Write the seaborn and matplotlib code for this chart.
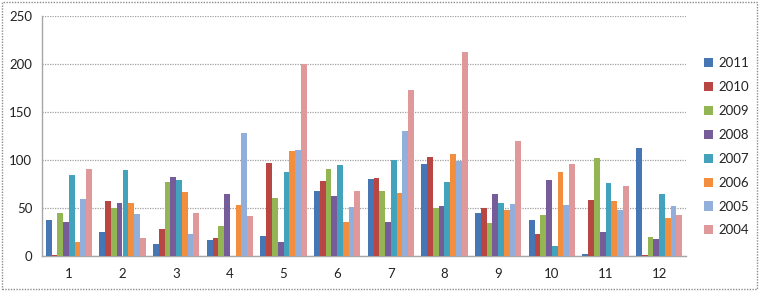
import matplotlib
matplotlib.use("Agg")
import matplotlib.pyplot as plt
import seaborn as sns
import pandas as pd
from matplotlib.patches import Rectangle, Patch
from matplotlib.ticker import FixedLocator

months = ["1", "2", "3", "4", "5", "6", "7", "8", "9", "10", "11", "12"]
years = ["2011", "2010", "2009", "2008", "2007", "2006", "2005", "2004"]
v2011 = [37, 25.5, 13, 17, 21, 68, 80, 96, 45, 37.5, 2, 112.5]
v2010 = [1, 57, 28.5, 19, 96.5, 78, 81, 103.5, 50, 23, 58, 0.7]
v2009 = [45, 49.5, 77, 31, 60, 91, 68, 50, 34, 43, 102, 19.5]
v2008 = [35, 55, 82, 65, 14.5, 63, 35.5, 52, 65, 79, 25, 17.5]
v2007 = [84, 90, 79, 0, 87.5, 94.5, 100, 77, 55.5, 10.5, 76.5, 65]
v2006 = [14.5, 55, 66.5, 53, 109, 35.5, 66, 106, 48, 87, 57, 40]
v2005 = [59, 44, 23, 128, 110.5, 51.5, 130.5, 99, 54, 53, 48, 52]
v2004 = [90.5, 19, 45, 42, 200, 68, 173, 212.5, 119.5, 96, 73, 43]
series = [v2011, v2010, v2009, v2008, v2007, v2006, v2005, v2004]
colors = ["#4676B4", "#B84744", "#94B553", "#775C9A", "#43A3BD",
          "#F28E3E", "#92AEDA", "#E0999A"]

rows = []
for y, vals in zip(years, series):
    for m, v in zip(months, vals):
        rows.append({"month": m, "year": y, "value": v})
df = pd.DataFrame(rows)

sns.set_style("white")
plt.rcParams["font.family"] = ["Lato", "DejaVu Sans"]

fig = plt.figure(figsize=(7.59, 2.91), dpi=100)
ax = fig.add_axes([42 / 759, 1 - 256 / 291, (686 - 42) / 759, 240 / 291])

sns.barplot(data=df, x="month", y="value", hue="year", order=months,
            hue_order=years, palette=colors, saturation=1, width=0.86,
            linewidth=0, ax=ax, legend=False, zorder=3)

ax.set_ylim(0, 250)
ax.set_xlim(-0.5, 11.5)
ax.set_yticks([0, 50, 100, 150, 200, 250])
ax.yaxis.grid(True, color="#a0a0a0", linestyle=(0, (1, 1)), linewidth=0.9, zorder=0)
ax.set_axisbelow(True)
ax.set_xlabel("")
ax.set_ylabel("")
for s in ["top", "right"]:
    ax.spines[s].set_visible(False)
for s in ["left", "bottom"]:
    ax.spines[s].set_color("#a6a6a6")
    ax.spines[s].set_linewidth(1.0)
ax.tick_params(axis="y", length=4, color="#a6a6a6", labelsize=9.5, pad=3,
               labelcolor="#222222")
ax.tick_params(axis="x", which="major", length=0, labelsize=9.5, pad=9,
               labelcolor="#222222")
ax.xaxis.set_minor_locator(FixedLocator([i - 0.5 for i in range(13)]))
ax.tick_params(axis="x", which="minor", length=4, color="#a6a6a6")

handles = [Patch(facecolor=c, edgecolor="none", label=y) for c, y in zip(colors, years)]
fig.legend(handles=handles, loc="upper left", bbox_to_anchor=(0.92, 0.821),
           frameon=False, fontsize=9.5, handlelength=0.7, handleheight=0.7,
           handletextpad=0.45, labelspacing=0.9, borderaxespad=0,
           labelcolor="#222222")

fig.patches.append(Rectangle((2 / 759, 2 / 291), 755 / 759, 287 / 291,
                             transform=fig.transFigure, fill=False,
                             edgecolor="#8c8c8c", linestyle=(0, (1, 1)),
                             linewidth=1.0))

fig.savefig("out.png", dpi=100)
